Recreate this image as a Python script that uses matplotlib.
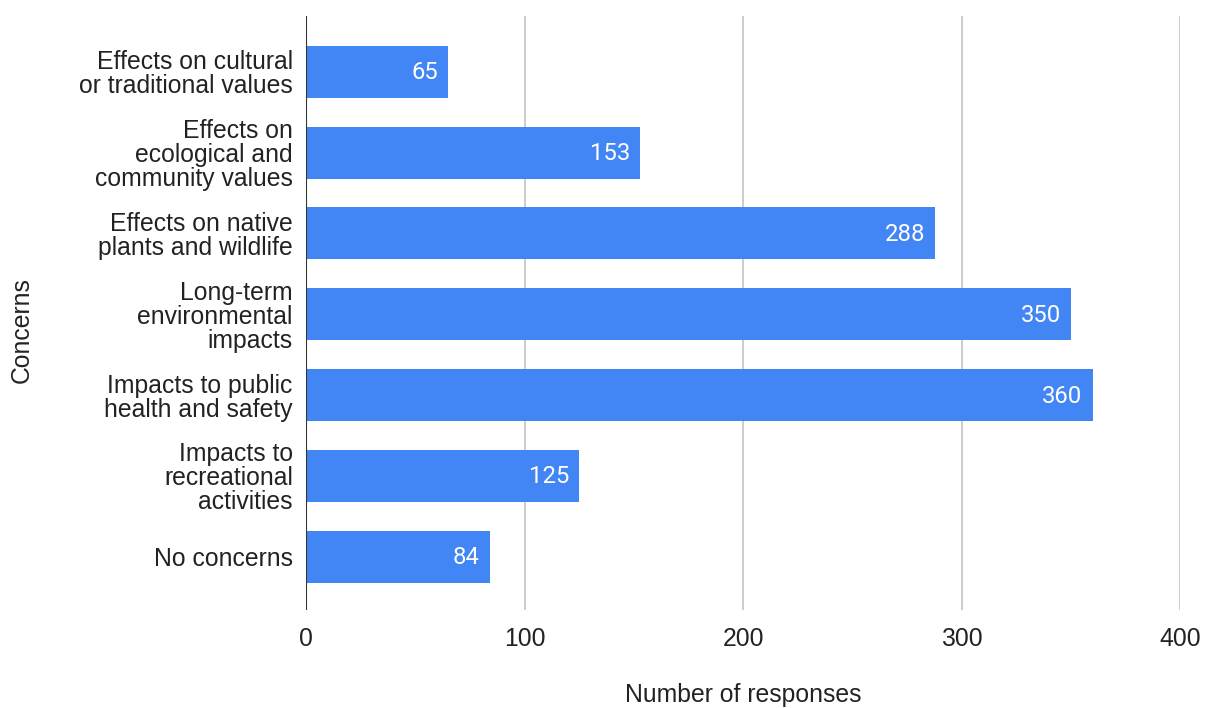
import matplotlib
matplotlib.use("Agg")
import matplotlib.pyplot as plt

categories = [
    "Effects on cultural\nor traditional values",
    "Effects on\necological and\ncommunity values",
    "Effects on native\nplants and wildlife",
    "Long-term\nenvironmental\nimpacts",
    "Impacts to public\nhealth and safety",
    "Impacts to\nrecreational\nactivities",
    "No concerns",
]
responses = [65, 153, 288, 350, 360, 125, 84]
x_ticks = [0, 100, 200, 300, 400]

BAR_COLOR = "#4285F4"
FONT = ["Liberation Sans", "DejaVu Sans"]
VALUE_FONT = ["Roboto", "DejaVu Sans"]
FS = 17.8

fig = plt.figure(figsize=(12.05, 7.08), dpi=100)
ax = fig.add_axes([306 / 1205, 1 - 610 / 708, (1180 - 306) / 1205, (610 - 16) / 708])

positions = list(range(len(categories)))
ax.barh(positions, responses, height=0.645, color=BAR_COLOR, zorder=3)

for y, v in zip(positions, responses):
    ax.annotate(str(v), xy=(v, y), xytext=(-10, -1), textcoords="offset pixels",
                ha="right", va="center", color="white", fontsize=17.2,
                family=VALUE_FONT, zorder=4)

ax.set_xlim(0, 400)
ax.set_ylim(len(categories) - 1 + 0.66, -0.69)
ax.set_xticks(x_ticks)
ax.set_yticks(positions)
ax.set_yticklabels(categories, family=FONT, fontsize=FS, linespacing=1.0)
ax.tick_params(axis="both", length=0, colors="#222222")
ax.tick_params(axis="y", pad=9.5)
ax.tick_params(axis="x", pad=12)
for lbl in ax.get_xticklabels():
    lbl.set_family(FONT)
    lbl.set_fontsize(FS)

ax.grid(axis="x", color="#cccccc", linewidth=1.4, zorder=0)
ax.axvline(0, color="#333333", linewidth=1.5, zorder=5)
for s in ax.spines.values():
    s.set_visible(False)

fig.text(743 / 1205, 1 - 695 / 708, "Number of responses", ha="center", va="center",
         family=FONT, fontsize=FS, color="#222222")
fig.text(22 / 1205, 1 - 330 / 708, "Concerns", ha="center", va="center",
         rotation=90, family=FONT, fontsize=FS, color="#222222")

fig.savefig("out.png", dpi=100, facecolor="white")
